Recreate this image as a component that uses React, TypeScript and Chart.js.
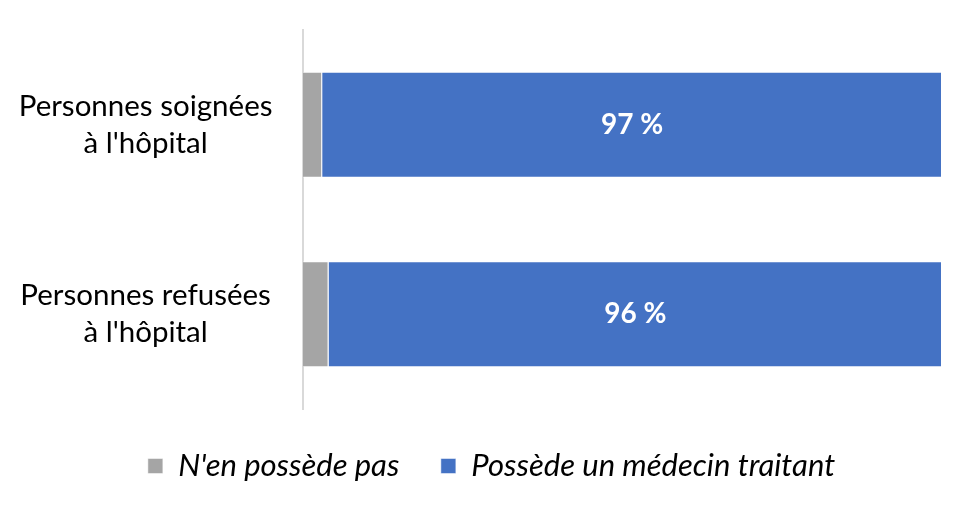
import React, { useEffect, useRef } from "react";
import { Chart, registerables } from "chart.js";

Chart.register(...registerables);

const categories: string[][] = [
  ["Personnes soignées", "à l'hôpital"],
  ["Personnes refusées", "à l'hôpital"],
];
const seriesNames = ["N'en possède pas", "Possède un médecin traitant"];
const sansMedecin = [3, 4];
const avecMedecin = [97, 96];
const colors = ["#A5A5A5", "#4472C4"];

const FONT = "Lato, 'Open Sans', sans-serif";

const valueLabels = {
  id: "valueLabels",
  afterDatasetsDraw(chart: any) {
    const ctx = chart.ctx;
    const meta = chart.getDatasetMeta(1);
    const data = chart.data.datasets[1].data as number[];
    ctx.save();
    ctx.fillStyle = "#ffffff";
    ctx.font = `bold 28px ${FONT}`;
    ctx.textAlign = "center";
    ctx.textBaseline = "middle";
    meta.data.forEach((el: any, i: number) => {
      const cx = (el.x + el.base) / 2;
      ctx.fillText(`${data[i]} %`, cx, el.y);
    });
    ctx.restore();
  },
};

export default function App() {
  const ref = useRef<HTMLCanvasElement>(null);
  useEffect(() => {
    if (!ref.current) return;
    const chart = new Chart(ref.current, {
      type: "bar",
      data: {
        labels: categories,
        datasets: [
          {
            label: seriesNames[0],
            data: sansMedecin,
            backgroundColor: colors[0],
            borderColor: "rgba(255,255,255,0.5)",
            borderWidth: 1,
            barPercentage: 0.56,
            categoryPercentage: 1,
          },
          {
            label: seriesNames[1],
            data: avecMedecin,
            backgroundColor: colors[1],
            borderColor: "rgba(255,255,255,0.5)",
            borderWidth: 1,
            barPercentage: 0.56,
            categoryPercentage: 1,
          },
        ],
      },
      options: {
        indexAxis: "y",
        responsive: false,
        animation: false,
        layout: { padding: { top: 30, left: 16, right: 4, bottom: 18.5 } },
        scales: {
          x: {
            stacked: true,
            min: 0,
            max: 100,
            display: false,
          },
          y: {
            stacked: true,
            grid: { display: false, drawTicks: false },
            border: { display: true, color: "#D9D9D9", width: 2 },
            ticks: {
              color: "#000000",
              crossAlign: "center",
              padding: 30.5,
              font: { family: FONT, size: 29.5, lineHeight: 1.27 },
            },
            afterFit(scale: any) {
              scale.width = 287;
              scale.paddingTop = 0;
              scale.paddingBottom = 0;
            },
          },
          yRight: {
            type: "linear",
            axis: "y",
            position: "right",
            display: true,
            grid: { display: false, drawTicks: false },
            border: { display: false },
            ticks: { display: false },
            afterFit(scale: any) {
              scale.width = 25;
              scale.paddingTop = 0;
              scale.paddingBottom = 0;
            },
          },
        },
        plugins: {
          tooltip: { enabled: false },
          legend: {
            position: "bottom",
            labels: {
              boxWidth: 15,
              boxHeight: 15,
              padding: 41.5,
              color: "#000000",
              font: { family: FONT, size: 31, style: "italic" },
            },
          },
        },
      },
      plugins: [valueLabels],
    });
    return () => chart.destroy();
  }, []);
  return (
    <div style={{ position: "absolute", left: 0, top: 0, width: 971, height: 510, background: "#fff" }}>
      <canvas ref={ref} width={971} height={510} />
    </div>
  );
}
